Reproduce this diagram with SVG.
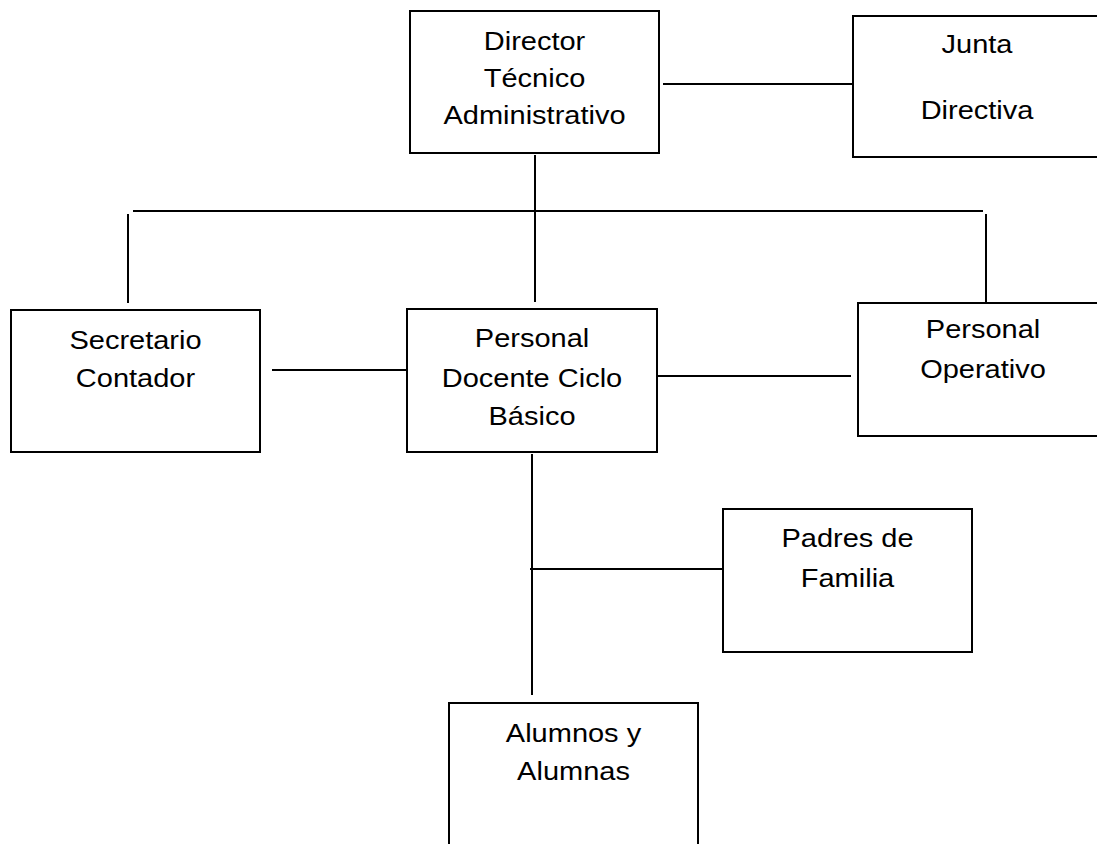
<svg xmlns="http://www.w3.org/2000/svg" width="1097" height="844" viewBox="0 0 1097 844">
<style>
.box{fill:#fff;stroke:#000;stroke-width:2}
.ln{stroke:#000;stroke-width:2;fill:none}
.t{font-family:"Liberation Sans",Arial,sans-serif;font-size:25px;fill:#000;text-anchor:middle}
</style>
<rect width="1097" height="844" fill="#fff"/>
<g id="connectors">
<line class="ln" x1="663" y1="84" x2="857" y2="84"/>
<line class="ln" x1="535" y1="155" x2="535" y2="302"/>
<line class="ln" x1="133" y1="211" x2="983" y2="211"/>
<line class="ln" x1="128" y1="214" x2="128" y2="303"/>
<line class="ln" x1="986" y1="214" x2="986" y2="303"/>
<line class="ln" x1="272" y1="370" x2="407" y2="370"/>
<line class="ln" x1="657" y1="376" x2="851" y2="376"/>
<line class="ln" x1="532" y1="454" x2="532" y2="695"/>
<line class="ln" x1="530" y1="569" x2="723" y2="569"/>
</g>
<g id="director">
<rect class="box" x="410" y="11" width="249" height="142"/>
<g transform="translate(534.5 0) scale(1.16 1)"><text class="t" x="0" y="50">Director</text><text class="t" x="0" y="87">Técnico</text><text class="t" x="0" y="124">Administrativo</text></g>
</g>
<g id="junta">
<rect class="box" x="853" y="16" width="260" height="141"/>
<g transform="translate(977 0) scale(1.16 1)"><text class="t" x="0" y="53">Junta</text><text class="t" x="0" y="119">Directiva</text></g>
</g>
<g id="secretario">
<rect class="box" x="11" y="310" width="249" height="142"/>
<g transform="translate(135.5 0) scale(1.16 1)"><text class="t" x="0" y="349">Secretario</text><text class="t" x="0" y="387">Contador</text></g>
</g>
<g id="docente">
<rect class="box" x="407" y="309" width="250" height="143"/>
<g transform="translate(532 0) scale(1.16 1)"><text class="t" x="0" y="347">Personal</text><text class="t" x="0" y="387">Docente Ciclo</text><text class="t" x="0" y="425">Básico</text></g>
</g>
<g id="operativo">
<rect class="box" x="858" y="303" width="260" height="133"/>
<g transform="translate(983 0) scale(1.16 1)"><text class="t" x="0" y="338">Personal</text><text class="t" x="0" y="378">Operativo</text></g>
</g>
<g id="padres">
<rect class="box" x="723" y="509" width="249" height="143"/>
<g transform="translate(847.5 0) scale(1.16 1)"><text class="t" x="0" y="547">Padres de</text><text class="t" x="0" y="587">Familia</text></g>
</g>
<g id="alumnos">
<rect class="box" x="449" y="703" width="249" height="160"/>
<g transform="translate(573.5 0) scale(1.16 1)"><text class="t" x="0" y="742">Alumnos y</text><text class="t" x="0" y="780">Alumnas</text></g>
</g>
</svg>
